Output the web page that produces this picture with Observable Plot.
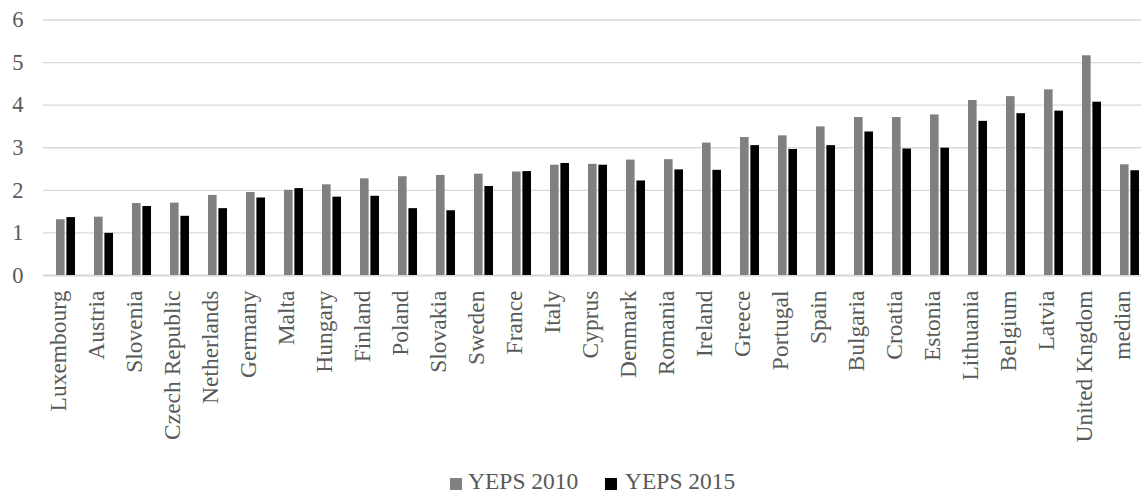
<!DOCTYPE html>
<html>
<head>
<meta charset="utf-8">
<script src="https://cdn.jsdelivr.net/npm/d3@7"></script>
<script src="https://cdn.jsdelivr.net/npm/@observablehq/plot@0.6"></script>
<style>
  html, body { margin: 0; padding: 0; background: #fff; overflow: hidden; }
  #wrap { position: relative; width: 1141px; height: 493px; overflow: hidden; }
  #chart svg { overflow: hidden; display: block; }
  .leg { position: absolute; font-family: "Liberation Serif", "Times New Roman", serif; font-size: 23.5px; color: #595959; line-height: 23px; white-space: nowrap; }
  .sw { position: absolute; width: 12px; height: 12px; }
</style>
</head>
<body>
<div id="wrap">
  <div id="chart"></div>
  <div class="sw" style="left:450px; top:478px; background:#808080;"></div>
  <div class="leg" style="left:468px; top:470px;">YEPS 2010</div>
  <div class="sw" style="left:605px; top:478px; background:#000000;"></div>
  <div class="leg" style="left:625px; top:470px;">YEPS 2015</div>
</div>
<script>
const countries = ["Luxembourg","Austria","Slovenia","Czech Republic","Netherlands","Germany","Malta","Hungary","Finland","Poland","Slovakia","Sweden","France","Italy","Cyprus","Denmark","Romania","Ireland","Greece","Portugal","Spain","Bulgaria","Croatia","Estonia","Lithuania","Belgium","Latvia","United Kngdom","median"];
const yeps2010 = [1.31,1.37,1.69,1.70,1.88,1.95,2.00,2.13,2.27,2.32,2.35,2.38,2.43,2.59,2.61,2.71,2.72,3.11,3.24,3.28,3.49,3.71,3.71,3.77,4.11,4.20,4.36,5.16,2.60];
const yeps2015 = [1.36,0.99,1.62,1.39,1.57,1.82,2.04,1.84,1.86,1.57,1.52,2.09,2.44,2.63,2.59,2.22,2.48,2.47,3.05,2.96,3.05,3.37,2.97,2.99,3.62,3.80,3.86,4.07,2.46];
const yTicks = [0,1,2,3,4,5,6];

const data = countries.map((c, i) => ({country: c, v10: yeps2010[i], v15: yeps2015[i]}));
const font = "Liberation Serif, Times New Roman, serif";

const chart = Plot.plot({
  width: 1141,
  height: 460,
  marginLeft: 43,
  marginRight: 0,
  marginTop: 19.5,
  marginBottom: 185,
  style: {fontFamily: font, fontSize: "23px", color: "#595959", background: "#fff", overflow: "hidden"},
  x: {domain: countries, range: [43.45, 1151.25], paddingInner: 0.5, paddingOuter: 0.25, axis: null},
  y: {domain: [0, 6], axis: null},
  marks: [
    Plot.gridY(yTicks, {stroke: "#d9d9d9", strokeOpacity: 1, strokeWidth: 1.3}),
    Plot.axisY(yTicks, {tickSize: 0, tickPadding: 20, fontSize: 22.5, fontFamily: font, fill: "#595959", label: null, tickFormat: d => String(d)}),
    Plot.ruleY([0], {stroke: "#d9d9d9", strokeWidth: 2}),
    Plot.barY(data, {x: "country", y: "v10", fill: "#808080", insetRight: 10.4}),
    Plot.barY(data, {x: "country", y: "v15", fill: "#000000", insetLeft: 10.4}),
    Plot.text(countries, {x: d => d, frameAnchor: "bottom", rotate: -90, textAnchor: "end", dy: 15, fontSize: 23.5, fill: "#595959", fontFamily: font})
  ]
});
document.getElementById("chart").appendChild(chart);
</script>
</body>
</html>
